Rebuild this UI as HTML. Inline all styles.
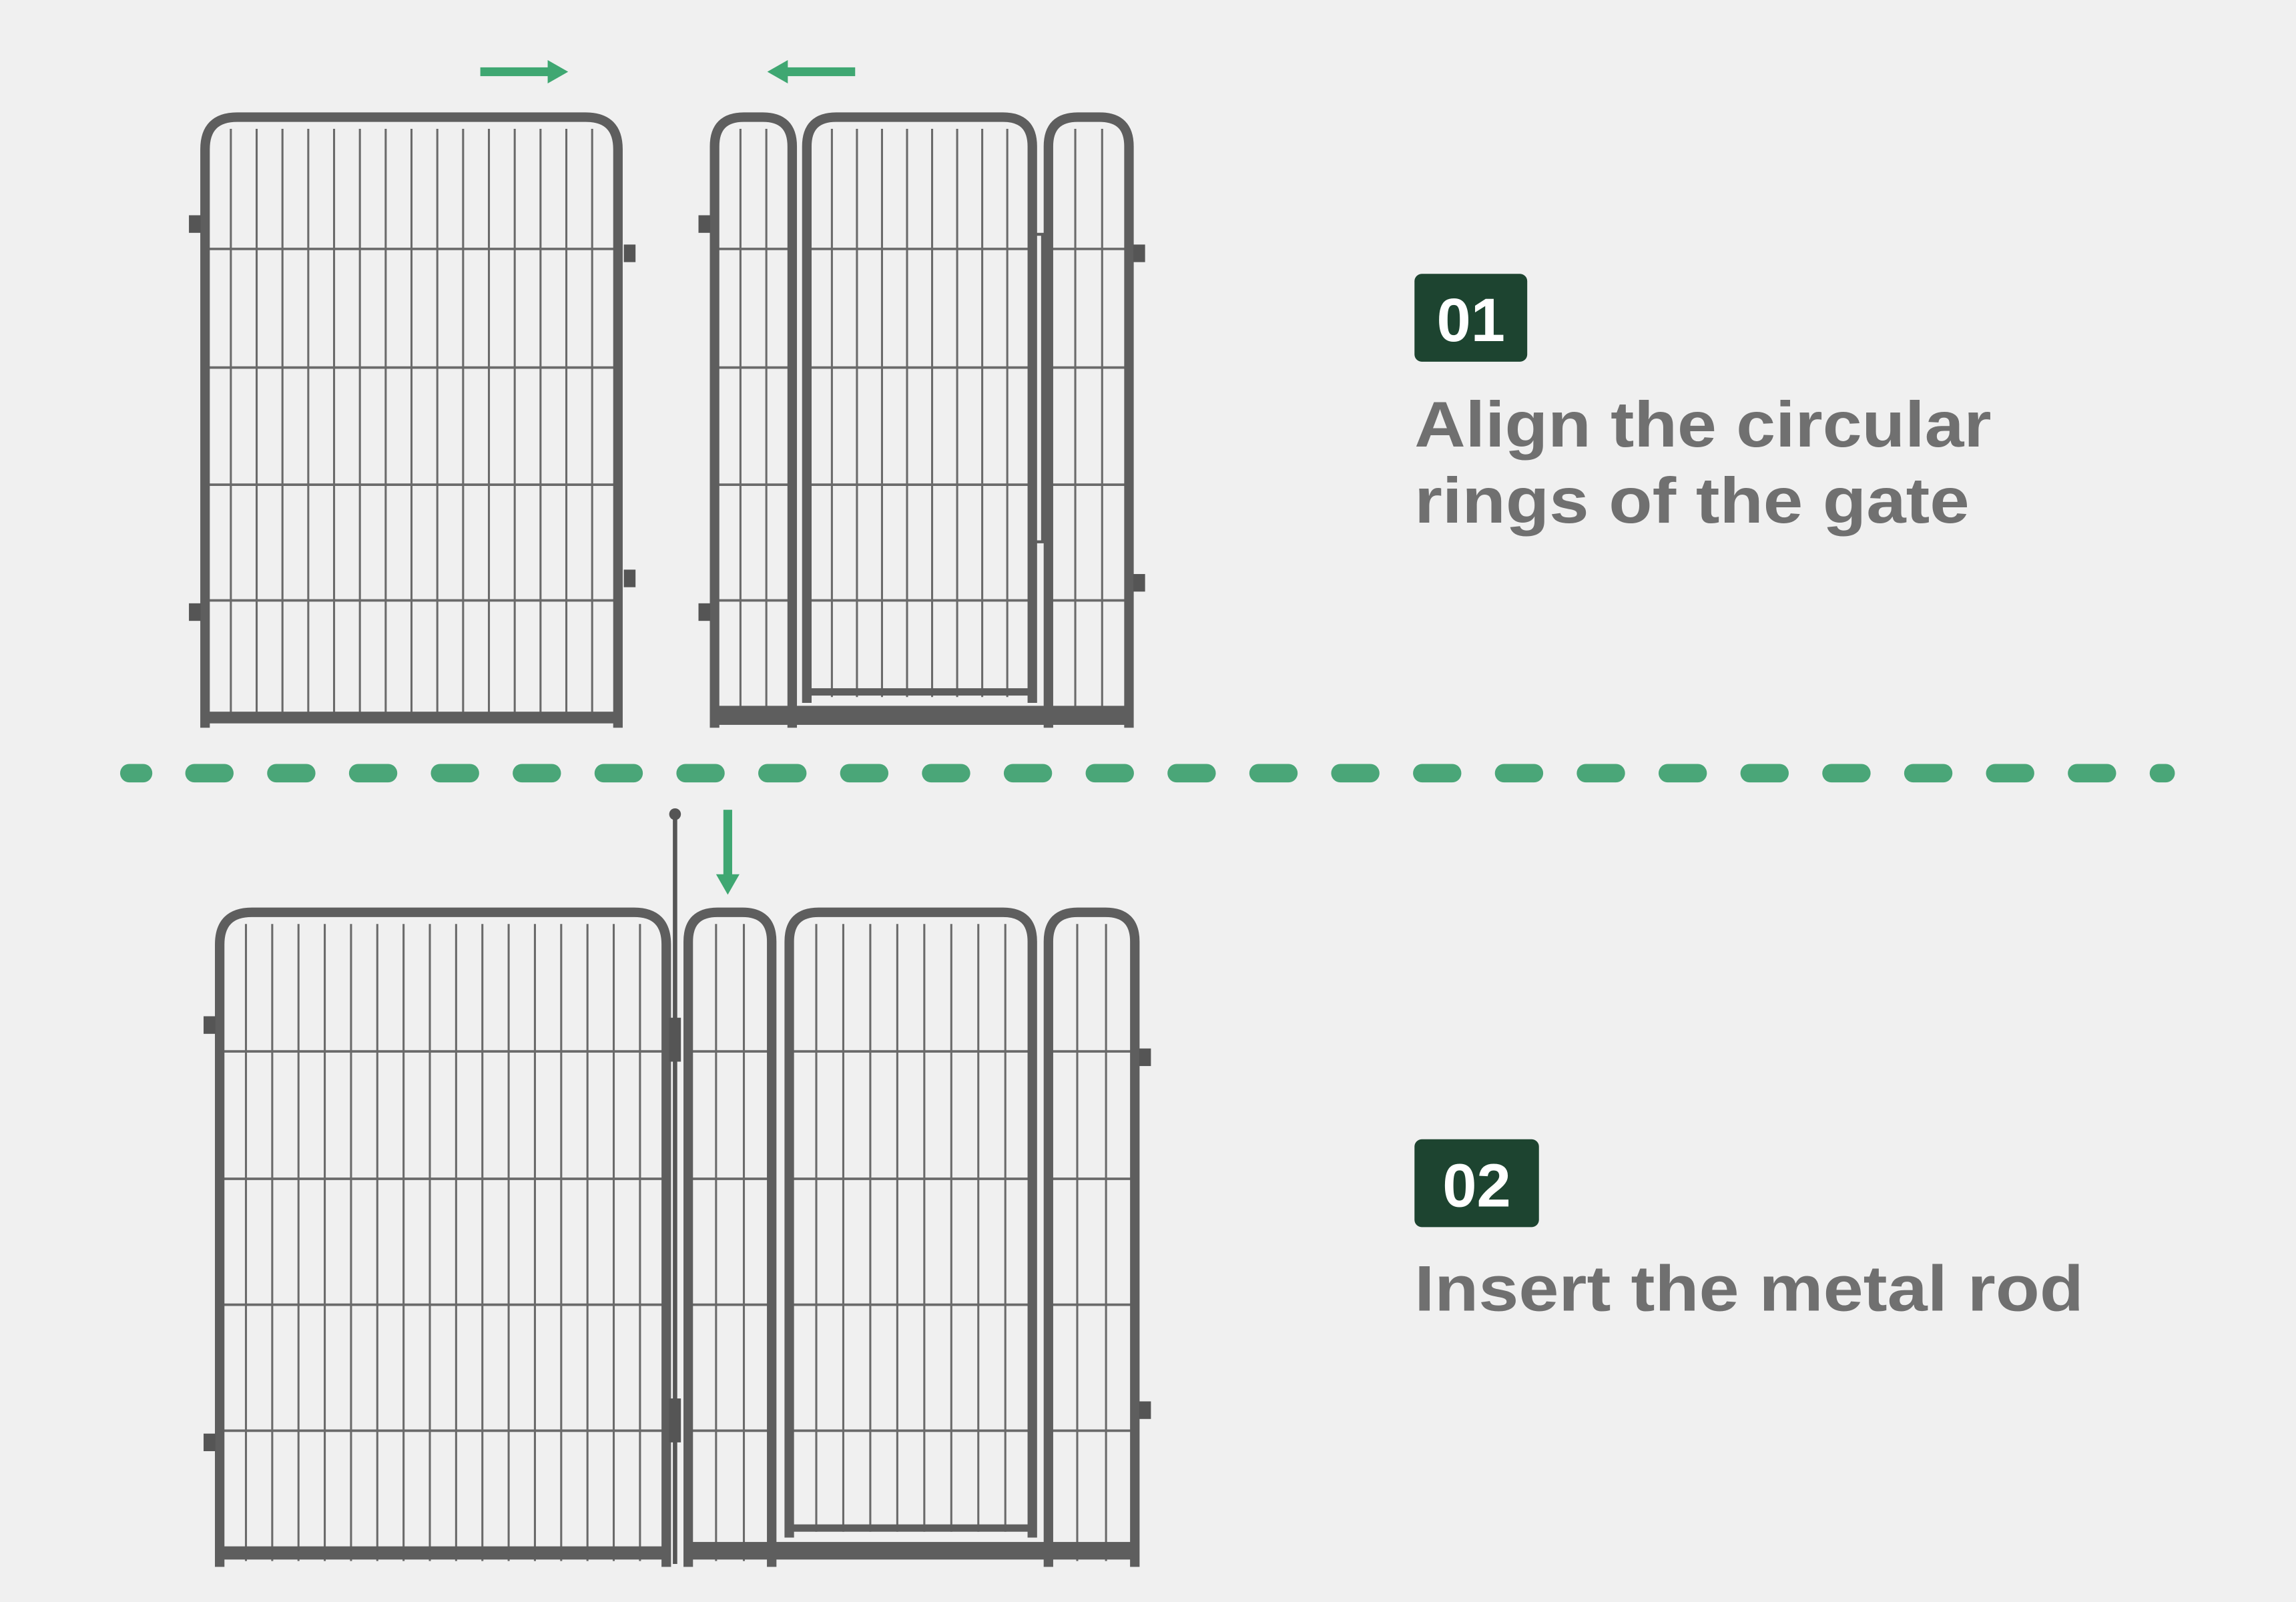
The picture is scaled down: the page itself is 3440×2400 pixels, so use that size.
<!DOCTYPE html>
<html><head><meta charset="utf-8"><style>
html,body{margin:0;padding:0;background:#f0f0f0;}
svg{display:block;}
</style></head><body>
<svg id="s" width="3440" height="2400" viewBox="0 0 1568 1094" xmlns="http://www.w3.org/2000/svg">
<rect width="1568" height="1094" fill="#f0f0f0"/>
<g id="g"></g>
<line x1="88.3" y1="528" x2="97.7" y2="528" stroke="#4aa678" stroke-width="12.6" stroke-linecap="round"/>
<line x1="132.8" y1="528" x2="1479" y2="528" stroke="#4aa678" stroke-width="12.6" stroke-linecap="round" stroke-dasharray="20.4 35.5"/>
<g fill="#3fa772" stroke="none">
<rect x="328" y="46" width="48" height="6"/><polygon points="374,41 388,49 374,57"/>
<rect x="536" y="46" width="48" height="6"/><polygon points="538,41 524,49 538,57"/>
<rect x="494" y="553" width="6" height="46"/><polygon points="489,597 497,611 505,597"/>
</g>
<rect x="966" y="187" width="77" height="60" rx="5" fill="#1d4430"/>
<text x="1004.5" y="233" text-anchor="middle" font-family="Liberation Sans, sans-serif" font-weight="bold" font-size="42" fill="#fff">01</text>
<text x="966" y="305" font-family="Liberation Sans, sans-serif" font-weight="bold" font-size="44" fill="#707070" textLength="394" lengthAdjust="spacingAndGlyphs">Align the circular</text>
<text x="966" y="357" font-family="Liberation Sans, sans-serif" font-weight="bold" font-size="44" fill="#707070" textLength="379" lengthAdjust="spacingAndGlyphs">rings of the gate</text>
<rect x="966" y="778" width="85" height="60" rx="5" fill="#1d4430"/>
<text x="1008.5" y="824" text-anchor="middle" font-family="Liberation Sans, sans-serif" font-weight="bold" font-size="42" fill="#fff">02</text>
<text x="966" y="895" font-family="Liberation Sans, sans-serif" font-weight="bold" font-size="44" fill="#707070" textLength="457" lengthAdjust="spacingAndGlyphs">Insert the metal rod</text>
</svg>
<script>
var g=document.getElementById('g'),NS='http://www.w3.org/2000/svg',C='#5e5e5e';
function el(t,a){var e=document.createElementNS(NS,t);for(var k in a)e.setAttribute(k,a[k]);g.appendChild(e);return e;}
function panel(x1,x2,top,bot,hs,nb,r){
  r=r||22;
  var inner=x2-x1;
  for(var i=1;i<=nb;i++){var x=x1+inner*i/(nb+1);el('line',{x1:x,y1:top+8,x2:x,y2:bot-4,stroke:'#6a6a6a','stroke-width':1.4});}
  hs.forEach(function(y){el('line',{x1:x1,y1:y,x2:x2,y2:y,stroke:'#6a6a6a','stroke-width':1.7});});
  el('path',{d:'M'+x1+' '+bot+' L'+x1+' '+(top+r)+' Q'+x1+' '+top+' '+(x1+r)+' '+top+' L'+(x2-r)+' '+top+' Q'+x2+' '+top+' '+x2+' '+(top+r)+' L'+x2+' '+bot,fill:'none',stroke:C,'stroke-width':6.5});
}
function clip(x,y){el('rect',{x:x-4,y:y-6,width:8,height:12,fill:'#555'});}
var th=[170,251,331,410];
panel(140,422,80,497,th,15,22);
el('rect',{x:140,y:486,width:282,height:8,fill:C});
clip(133,153);clip(133,418);clip(430,173);clip(430,395);
panel(488,541,80,497,th,2,20);
panel(551,705,80,480,th,8,20);
panel(716,771,80,497,th,2,20);
el('rect',{x:488,y:482,width:283,height:13,fill:C});
el('rect',{x:553,y:470,width:150,height:5,fill:C});
clip(481,153);clip(481,418);clip(778,173);clip(778,398);
el('rect',{x:706,y:160,width:6,height:210,fill:'none',stroke:C,'stroke-width':2});
var bh=[718,805,891,977];
panel(150,455,623,1070,bh,16,22);
el('rect',{x:150,y:1056,width:305,height:9,fill:C});
clip(143,700);clip(143,985);
panel(470,527,623,1070,bh,2,20);
panel(539,705,623,1050,bh,8,20);
panel(716,775,623,1070,bh,2,20);
el('rect',{x:470,y:1053,width:305,height:12,fill:C});
el('rect',{x:541,y:1041,width:162,height:5,fill:C});
clip(782,722);clip(782,963);
el('line',{x1:461,y1:555,x2:461,y2:1068,stroke:'#555','stroke-width':3});
el('circle',{cx:461,cy:556,r:4,fill:'#555'});
el('rect',{x:457,y:695,width:8,height:30,fill:'#555'});
el('rect',{x:457,y:955,width:8,height:30,fill:'#555'});
</script>
</body></html>
